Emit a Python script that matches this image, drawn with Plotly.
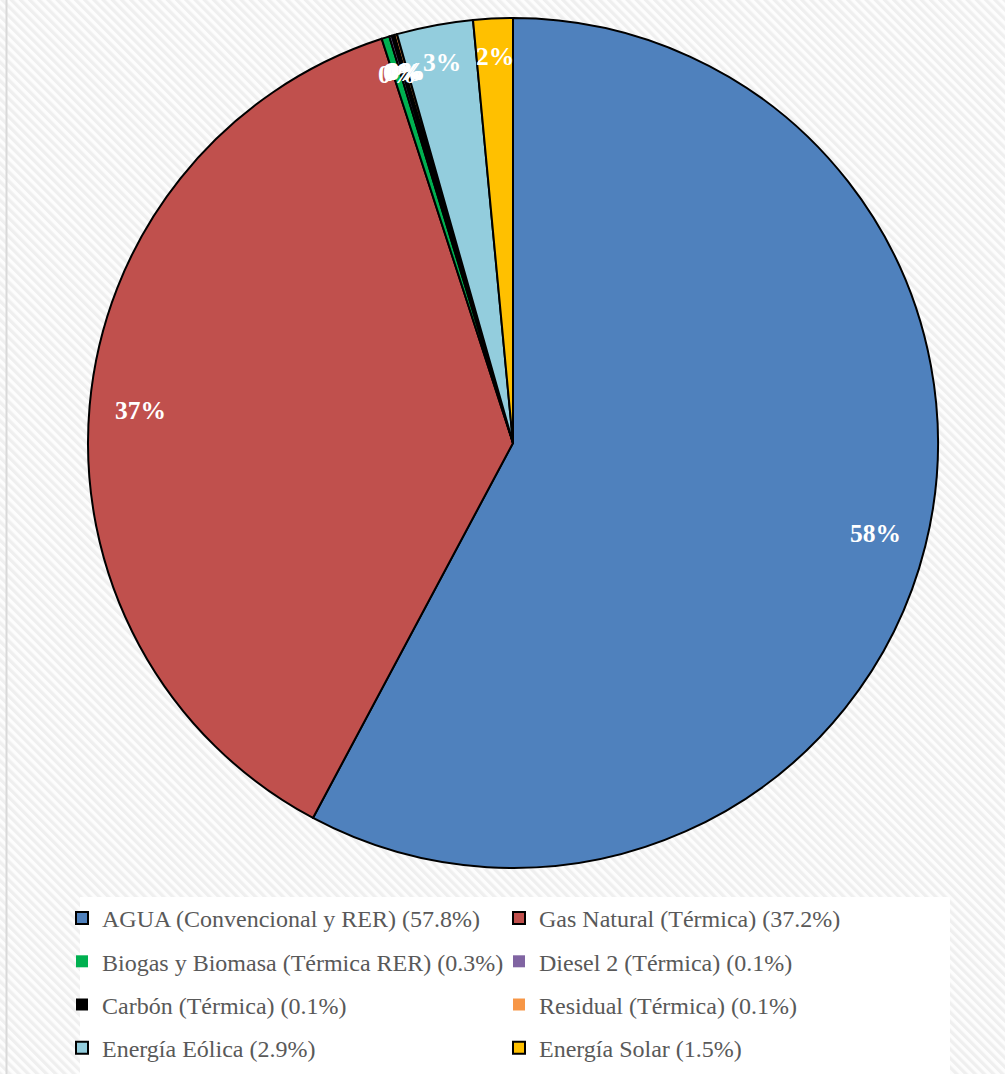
import base64
import math
import plotly.graph_objects as go

# ---- data ----
sources = [
    "AGUA (Convencional y RER)",
    "Gas Natural (Térmica)",
    "Biogas y Biomasa (Térmica RER)",
    "Diesel 2 (Térmica)",
    "Carbón (Térmica)",
    "Residual (Térmica)",
    "Energía Eólica",
    "Energía Solar",
]
shares = [57.8, 37.2, 0.3, 0.1, 0.1, 0.1, 2.9, 1.5]
colors = ["#4F81BD", "#C0504D", "#00B050", "#8064A2", "#000000", "#F79646", "#93CDDD", "#FFC000"]
legend_border = [2, 2, 0, 0, 0, 0, 2, 2]

W, H = 1005, 1074
CX, CY, R = 513, 443, 425  # pie centre / radius in px

# ---- textured background ----
svg = f"""<svg xmlns='http://www.w3.org/2000/svg' width='{W}' height='{H}'>
<defs><pattern id='p' width='6.5' height='6.5' patternUnits='userSpaceOnUse' patternTransform='rotate(-45)'>
<rect width='6.5' height='6.5' fill='#fdfdfd'/><rect width='3.2' height='6.5' fill='#efefef'/></pattern></defs>
<rect width='{W}' height='{H}' fill='url(#p)'/>
<rect x='80' y='897' width='870' height='{H-897}' fill='#ffffff'/>
<line x1='6.5' y1='0' x2='6.5' y2='{H}' stroke='#d9d9d9' stroke-width='2'/>
</svg>"""
bg_src = "data:image/svg+xml;base64," + base64.b64encode(svg.encode("utf-8")).decode()

fig = go.Figure()

fig.add_trace(go.Pie(
    labels=sources,
    values=shares,
    sort=False,
    direction="clockwise",
    rotation=0,
    marker=dict(colors=colors, line=dict(color="#000000", width=2)),
    textinfo="none",
    hoverinfo="label+percent",
    showlegend=False,
    domain=dict(x=[(CX - R) / W, (CX + R) / W], y=[1 - (CY + R) / H, 1 - (CY - R) / H]),
))

# legend entries (two columns, row-wise order)
for i, (name, val, col, bw) in enumerate(zip(sources, shares, colors, legend_border)):
    fig.add_trace(go.Scatter(
        x=[None], y=[None], mode="markers",
        marker=dict(symbol="square", size=12, color=col, line=dict(color="#000000", width=bw)),
        name=f"{name} ({val:.1f}%)",
        legend="legend" if i % 2 == 0 else "legend2",
        legendgroup=name,
        hoverinfo="skip",
    ))

# percentage labels computed from the data
total = sum(shares)
annotations = []
cum = 0.0
for val in shares:
    mid = (cum + val / 2) / total * 2 * math.pi
    cum += val
    frac = 0.88 if val / total > 0.1 else 0.91
    px = CX + frac * R * math.sin(mid)
    py = CY - frac * R * math.cos(mid)
    annotations.append(dict(
        x=px / W, y=1 - py / H, xref="paper", yref="paper",
        xanchor="center", yanchor="middle",
        text=f"{round(val / total * 100)}%", showarrow=False,
        font=dict(family="Liberation Serif", size=25.5, color="#ffffff", weight="bold"),
    ))

legend_font = dict(family="Liberation Serif", size=24, color="#595959")
common = dict(xanchor="left", yanchor="top", bgcolor="rgba(0,0,0,0)", font=legend_font,
              tracegroupgap=9, itemwidth=30, orientation="v")

fig.update_layout(
    width=W, height=H,
    margin=dict(l=0, r=0, t=0, b=0),
    paper_bgcolor="#ffffff",
    plot_bgcolor="rgba(0,0,0,0)",
    xaxis=dict(visible=False),
    yaxis=dict(visible=False),
    images=[dict(source=bg_src, xref="paper", yref="paper", x=0, y=1, sizex=1, sizey=1,
                 xanchor="left", yanchor="top", sizing="stretch", layer="below")],
    legend=dict(x=(103 - 41) / W, y=1 - 896 / H, **common),
    legend2=dict(x=(540 - 41) / W, y=1 - 896 / H, **common),
    annotations=annotations,
)

fig.write_html("out.html")
